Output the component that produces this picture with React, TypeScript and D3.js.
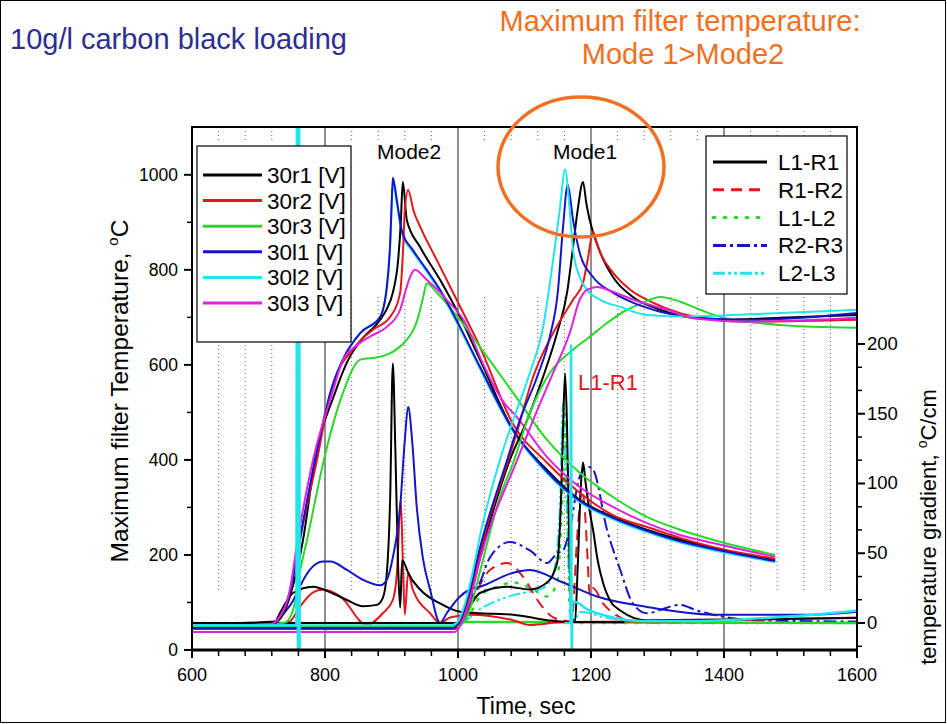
import React from "react";
import * as d3 from "d3";

type P = [number, number];

// ---------------- axis ticks & labels ----------------
const timeTicks = [600, 800, 1000, 1200, 1400, 1600];
const timeMinor = [640, 680, 720, 760, 840, 880, 920, 960, 1040, 1080, 1120, 1160, 1240, 1280, 1320, 1360, 1440, 1480, 1520, 1560];
const tempTicks = [0, 200, 400, 600, 800, 1000];
const tempMinor = [100, 300, 500, 700, 900];
const gradTicks = [0, 50, 100, 150, 200];
const gradMinor = [-16.7, 16.7, 33.3, 66.7, 83.3, 116.7, 133.3, 166.7, 183.3];
const tempNames = ["30r1 [V]", "30r2 [V]", "30r3 [V]", "30l1 [V]", "30l2 [V]", "30l3 [V]"];
const gradNames = ["L1-R1", "R1-R2", "L1-L2", "R2-R3", "L2-L3"];

// ---------------- Mode 2 temperatures (left axis, deg C) ----------------
const m2_30r1: P[] = [[672,55],[722,57],[732,65],[750,126],[767,232],[785,400],[815,541],[835,611],[853,650],[883,695],[893,718],[902,752],[910,821],[914,900],[917,985],[923,905],[943,848],[973,779],[1003,701],[1033,611],[1083,463],[1134,379],[1183,316],[1233,280],[1284,253],[1334,232],[1383,215],[1477,189]];
const m2_30r2: P[] = [[672,52],[722,55],[730,65],[748,126],[762,232],[788,400],[808,541],[845,638],[872,674],[898,701],[913,752],[918,860],[920,926],[925,968],[933,925],[943,891],[968,821],[998,737],[1033,638],[1083,475],[1134,394],[1183,331],[1233,284],[1284,259],[1334,236],[1383,217],[1477,192]];
const m2_30r3: P[] = [[672,50],[740,58],[755,100],[762,162],[773,232],[800,410],[827,541],[853,611],[883,617],[905,630],[923,653],[935,680],[940,700],[948,745],[953,772],[968,752],[1000,700],[1033,638],[1083,541],[1134,442],[1183,373],[1233,322],[1284,280],[1334,253],[1383,232],[1477,200]];
const m2_30l1: P[] = [[672,50],[722,52],[730,65],[748,126],[762,232],[785,400],[808,541],[830,620],[853,667],[883,701],[893,764],[898,857],[900,930],[902,994],[905,975],[908,947],[916,880],[932,842],[953,800],[973,758],[1003,680],[1033,596],[1083,463],[1134,375],[1183,314],[1233,278],[1284,251],[1334,229],[1383,213],[1477,187]];
const m2_30l2_spike: P[] = [[600,52],[757,52],[758,1300],[759.5,-80],[761,1300],[762,-80]];
const m2_30l2: P[] = [[763,232],[785,400],[808,541],[853,667],[883,701],[893,764],[898,850],[902,980],[908,940],[916,875],[932,838],[953,796],[973,754],[1003,676],[1033,592],[1083,460],[1134,372],[1183,311],[1233,275],[1284,248],[1334,226],[1383,210],[1477,185]];
const m2_30l3: P[] = [[672,52],[720,55],[728,63],[747,126],[759,232],[782,400],[811,541],[827,610],[845,638],[868,660],[893,680],[913,716],[922,760],[928,785],[935,800],[953,779],[983,737],[1014,680],[1023,650],[1033,617],[1074,512],[1083,499],[1134,406],[1183,343],[1233,301],[1284,267],[1334,242],[1383,225],[1477,196]];

// ---------------- Mode 1 temperatures (left axis, deg C) ----------------
const m1_30r1: P[] = [[600,48],[995,48],[1005,62],[1018,115],[1033,195],[1078,400],[1104,484],[1128,575],[1149,667],[1164,752],[1173,848],[1180,926],[1188,985],[1193,940],[1198,905],[1214,836],[1233,785],[1263,743],[1304,716],[1353,699],[1409,695],[1484,699],[1600,705]];
const m1_30r2: P[] = [[600,44],[995,44],[1005,60],[1018,112],[1033,205],[1078,410],[1089,460],[1113,575],[1143,667],[1173,737],[1188,773],[1195,821],[1203,880],[1208,860],[1214,836],[1233,794],[1259,758],[1293,731],[1334,709],[1383,695],[1435,691],[1600,695]];
const m1_30r3: P[] = [[600,50],[1000,50],[1008,58],[1020,95],[1033,165],[1063,322],[1083,394],[1108,499],[1138,583],[1173,632],[1198,659],[1224,688],[1254,716],[1274,728],[1304,743],[1334,733],[1364,716],[1394,701],[1435,691],[1484,684],[1534,680],[1600,678]];
const m1_30l1: P[] = [[600,46],[992,46],[1003,62],[1015,110],[1033,215],[1074,400],[1093,484],[1119,575],[1138,659],[1150,752],[1158,891],[1165,979],[1173,905],[1183,836],[1203,785],[1233,752],[1263,731],[1304,712],[1359,699],[1435,695],[1534,701],[1600,709]];
const m1_30l2: P[] = [[600,52],[990,52],[1000,60],[1010,95],[1020,150],[1033,240],[1063,400],[1083,484],[1108,583],[1128,680],[1143,821],[1153,926],[1161,1011],[1168,926],[1173,842],[1183,785],[1194,758],[1214,737],[1244,722],[1284,705],[1334,702],[1398,704],[1484,709],[1600,716]];
const m1_30l3: P[] = [[600,38],[995,38],[1005,55],[1018,105],[1033,190],[1089,400],[1113,484],[1143,583],[1168,667],[1183,737],[1194,758],[1209,764],[1233,754],[1264,737],[1314,716],[1359,697],[1435,691],[1600,699]];

// ---------------- Mode 2 gradients (right axis, deg C/cm) ----------------
const g2_L1R1: P[] = [[672,0],[725,1],[732,7],[752,21.5],[782,26],[808,22],[833,16.5],[857,12],[878,13],[887,18],[893,36],[898,90],[902,186],[906,120],[910,40],[913,11],[916,45],[920,42],[925,36],[943,24],[973,14],[1003,8],[1033,7],[1083,6],[1134,2],[1164,0.7],[1250,0.5]];
const g2_R1R2: P[] = [[740,0],[747,1],[762,11.5],[782,22],[797,24],[823,19],[863,-1.4],[887,7],[902,16.5],[908,35],[914,88],[917,45],[920,6],[925,36],[932,24],[958,7],[973,0],[988,4],[1018,6],[1083,2],[1108,-1.4],[1158,0.7],[1364,1.5],[1600,4]];
const g2_R2R3: P[] = [[725,0],[740,8],[752,16],[762,26],[777,38],[797,44],[808,44],[833,38],[857,31],[883,27],[893,31],[902,47],[913,83],[920,131],[925,155],[931,131],[938,83],[947,47],[958,24],[973,0],[983,7],[1003,19],[1018,24],[1033,26],[1083,36],[1108,38],[1158,29],[1209,19],[1284,11.5],[1383,6],[1534,6],[1600,8]];
const g2_L1L2: P[] = [[1000,0.8],[1150,0.5],[1600,0]];
const g2_L2L3: P[] = [[1160,0],[1169,0],[1170,199],[1171,-25],[1172,15],[1176,15],[1194,10],[1224,5],[1274,1.5],[1364,1.5],[1474,4],[1534,6],[1600,9]];

// ---------------- Mode 1 gradients (right axis, deg C/cm) ----------------
const g1_L1R1: P[] = [[600,0],[1003,0],[1018,12],[1033,21.5],[1074,26],[1108,24],[1134,29],[1149,43],[1155,90],[1158,140],[1161,179],[1164,140],[1168,40],[1172,3],[1176,1],[1180,40],[1185,100],[1188,115],[1192,100],[1198,80],[1203,67],[1210,45],[1218,29],[1230,15],[1244,9],[1284,2],[1400,2.5],[1600,3.6]];
const g1_R1R2: P[] = [[600,0],[1003,0],[1020,15],[1048,38],[1074,43],[1098,33],[1123,14],[1143,4],[1158,2],[1171,1],[1179,60],[1186,95],[1190,85],[1195,45],[1198,20],[1203,25],[1218,14],[1244,4],[1259,1],[1300,0],[1600,0]];
const g1_L1L2: P[] = [[600,0],[1003,0],[1020,8],[1033,19],[1059,26],[1083,29],[1113,24],[1134,19],[1149,29],[1156,80],[1161,150],[1165,80],[1168,10],[1171,0],[1600,0]];
const g1_R2R3: P[] = [[600,0],[1003,0],[1020,18],[1033,29],[1048,47],[1078,58],[1108,52],[1134,43],[1149,50],[1158,52],[1168,67],[1183,105],[1195,112],[1203,110],[1224,67],[1244,38],[1263,14],[1284,7],[1314,11],[1334,13],[1359,9],[1383,6],[1450,2],[1600,1]];
const g1_L2L3: P[] = [[600,0],[1003,0],[1033,10],[1083,20],[1128,25],[1143,35],[1153,80],[1158,158],[1163,90],[1168,20],[1171,0],[1185,8],[1220,4],[1300,0],[1600,0]];

// ---------------- styles ----------------
const COL = {
  black: "#000000",
  red: "#e3161c",
  green: "#2ad82a",
  blue: "#1515c8",
  cyan: "#22e4ea",
  magenta: "#de22de",
  orange: "#f07022",
  navy: "#2c2f8e",
};
const tempColors = [COL.black, COL.red, COL.green, COL.blue, COL.cyan, COL.magenta];
const gradColors = [COL.black, COL.red, COL.green, COL.blue, COL.cyan];
const gradDash = ["", "11,7", "2,9", "13,4,3,4", "12,3,3,3,3,3"];
const FONT = "'Liberation Sans', Arial, Helvetica, sans-serif";

export default function App() {
  const L = 192, R = 857, T = 127, B = 650;
  const x = d3.scaleLinear().domain([600, 1600]).range([L, R]);
  const yT = d3.scaleLinear().domain([0, 1100.6]).range([B, T]);
  const yG = d3.scaleLinear().domain([-19.35, 355.5]).range([B, T]);
  const lineT = d3.line<P>().x((d) => x(d[0])).y((d) => yT(d[1])).curve(d3.curveMonotoneX);
  const lineG = d3.line<P>().x((d) => x(d[0])).y((d) => yG(d[1])).curve(d3.curveMonotoneX);

  type S = { d: P[]; ax: "T" | "G"; c: string; dash?: string; w?: number };
  const layers: S[] = [
    { d: g1_L2L3, ax: "G", c: COL.cyan, dash: gradDash[4] },
    { d: g1_L1L2, ax: "G", c: COL.green, dash: gradDash[2], w: 2.5 },
    { d: g1_R1R2, ax: "G", c: COL.red, dash: gradDash[1] },
    { d: g1_R2R3, ax: "G", c: COL.blue, dash: gradDash[3] },
    { d: g2_L1L2, ax: "G", c: COL.green, w: 2.5 },
    { d: g2_R1R2, ax: "G", c: COL.red },
    { d: g2_L1R1, ax: "G", c: COL.black },
    { d: g2_R2R3, ax: "G", c: COL.blue },
    { d: g1_L1R1, ax: "G", c: COL.black },
    { d: m2_30l2, ax: "T", c: COL.cyan },
    { d: m2_30r1, ax: "T", c: COL.black },
    { d: m2_30r2, ax: "T", c: COL.red },
    { d: m2_30r3, ax: "T", c: COL.green },
    { d: m2_30l1, ax: "T", c: COL.blue },
    { d: m2_30l3, ax: "T", c: COL.magenta },
    { d: m1_30r1, ax: "T", c: COL.black },
    { d: m1_30r2, ax: "T", c: COL.red },
    { d: m1_30r3, ax: "T", c: COL.green },
    { d: m1_30l1, ax: "T", c: COL.blue },
    { d: m1_30l2, ax: "T", c: COL.cyan },
    { d: m1_30l3, ax: "T", c: COL.magenta },
    { d: g2_L2L3, ax: "G", c: COL.cyan, w: 2.5 },
    { d: m2_30l2_spike, ax: "T", c: COL.cyan, w: 2.5 },
  ];

  const dotSegs: [number, number][] = [[T, 140], [297, 590]];

  return (
    <div style={{ position: "absolute", left: 0, top: 0 }}>
      <svg width={947} height={724} style={{ display: "block", background: "#fff" }} fontFamily={FONT}>
        <rect x={0.5} y={0.5} width={945} height={722} fill="#fff" stroke="#000" strokeWidth={1} />
        <defs>
          <clipPath id="plot">
            <rect x={L} y={T} width={R - L} height={B - T} />
          </clipPath>
        </defs>

        {/* grid */}
        {timeMinor.map((v) =>
          dotSegs.map((s, i) => (
            <line key={`d${v}-${i}`} x1={x(v)} x2={x(v)} y1={s[0]} y2={s[1]} stroke="#666" strokeWidth={1} strokeDasharray="1,3" />
          ))
        )}
        {timeTicks.slice(1, -1).map((v) => (
          <line key={`g${v}`} x1={x(v)} x2={x(v)} y1={T} y2={B} stroke="#222" strokeWidth={1} />
        ))}

        {/* series */}
        <g clipPath="url(#plot)" fill="none" strokeLinejoin="round">
          {layers.map((s, i) => (
            <path
              key={i}
              d={(s.ax === "T" ? lineT : lineG)(s.d) || ""}
              stroke={s.c}
              strokeWidth={s.w ?? 2}
              strokeDasharray={s.dash || undefined}
              strokeLinecap={s.dash === gradDash[2] ? "round" : "butt"}
            />
          ))}
        </g>

        {/* frame */}
        <rect x={L} y={T} width={R - L} height={B - T} fill="none" stroke="#000" strokeWidth={2} />
        <line x1={L - 1} x2={R + 1} y1={B} y2={B} stroke="#000" strokeWidth={3} />

        {/* bottom axis */}
        {timeTicks.map((v) => (
          <g key={`xt${v}`}>
            <line x1={x(v)} x2={x(v)} y1={B} y2={B + 8} stroke="#000" strokeWidth={2} />
            <text x={x(v)} y={681} fontSize={18} textAnchor="middle">{v}</text>
          </g>
        ))}
        {timeMinor.map((v) => (
          <line key={`xm${v}`} x1={x(v)} x2={x(v)} y1={B} y2={B + 6} stroke="#000" strokeWidth={1.5} />
        ))}
        <text x={526} y={714} fontSize={23} textAnchor="middle">Time, sec</text>

        {/* left axis */}
        {tempTicks.map((v) => (
          <g key={`yt${v}`}>
            <line x1={L - 8} x2={L} y1={yT(v)} y2={yT(v)} stroke="#000" strokeWidth={2} />
            <text x={L - 14} y={yT(v) + 6} fontSize={17.5} textAnchor="end">{v}</text>
          </g>
        ))}
        {tempMinor.map((v) => (
          <line key={`ym${v}`} x1={L - 5} x2={L} y1={yT(v)} y2={yT(v)} stroke="#000" strokeWidth={1.5} />
        ))}
        <text transform="translate(128,391) rotate(-90)" fontSize={24.5} textAnchor="middle">
          Maximum filter Temperature, <tspan fontSize={15} dy={-10}>o</tspan><tspan dy={10}>C</tspan>
        </text>

        {/* right axis */}
        {gradTicks.map((v) => (
          <g key={`gt${v}`}>
            <line x1={R} x2={R + 8} y1={yG(v)} y2={yG(v)} stroke="#000" strokeWidth={2} />
            <text x={R + 10} y={yG(v) + 6} fontSize={18.5} textAnchor="start">{v}</text>
          </g>
        ))}
        {gradMinor.map((v) => (
          <line key={`gm${v}`} x1={R} x2={R + 5} y1={yG(v)} y2={yG(v)} stroke="#000" strokeWidth={1.5} />
        ))}
        <text transform="translate(936,527) rotate(-90)" fontSize={22} textAnchor="middle">
          temperature gradient, <tspan fontSize={14} dy={-9}>o</tspan><tspan dy={9}>C/cm</tspan>
        </text>

        {/* annotations */}
        <text x={377} y={159} fontSize={21}>Mode2</text>
        <text x={553} y={159} fontSize={21}>Mode1</text>
        <text x={578} y={390} fontSize={22} fill={COL.red}>L1-R1</text>
        <ellipse cx={581} cy={167} rx={83} ry={70} fill="none" stroke={COL.orange} strokeWidth={3.5} />

        {/* left legend */}
        <rect x={197} y={146} width={154} height={196} fill="#fff" stroke="#000" strokeWidth={1.2} />
        {tempNames.map((n, i) => {
          const yy = 175 + i * 25.6;
          return (
            <g key={n}>
              <line x1={203} x2={262} y1={yy} y2={yy} stroke={tempColors[i]} strokeWidth={3} />
              <text x={267} y={yy + 8} fontSize={22.5}>{n}</text>
            </g>
          );
        })}

        {/* right legend */}
        <rect x={706} y={136} width={141} height={158} fill="#fff" stroke="#000" strokeWidth={1.2} />
        {gradNames.map((n, i) => {
          const yy = 162 + i * 27.8;
          return (
            <g key={n}>
              <line x1={713} x2={767} y1={yy} y2={yy} stroke={gradColors[i]} strokeWidth={3}
                strokeDasharray={gradDash[i] || undefined} strokeLinecap={i === 2 ? "round" : "butt"} />
              <text x={778} y={yy + 8} fontSize={22.5}>{n}</text>
            </g>
          );
        })}

        {/* titles */}
        <text x={10} y={49} fontSize={29} fill={COL.navy}>10g/l carbon black loading</text>
        <text x={680} y={31} fontSize={29} fill={COL.orange} textAnchor="middle">Maximum filter temperature:</text>
        <text x={683} y={64} fontSize={29} fill={COL.orange} textAnchor="middle">Mode 1&gt;Mode2</text>
      </svg>
    </div>
  );
}
